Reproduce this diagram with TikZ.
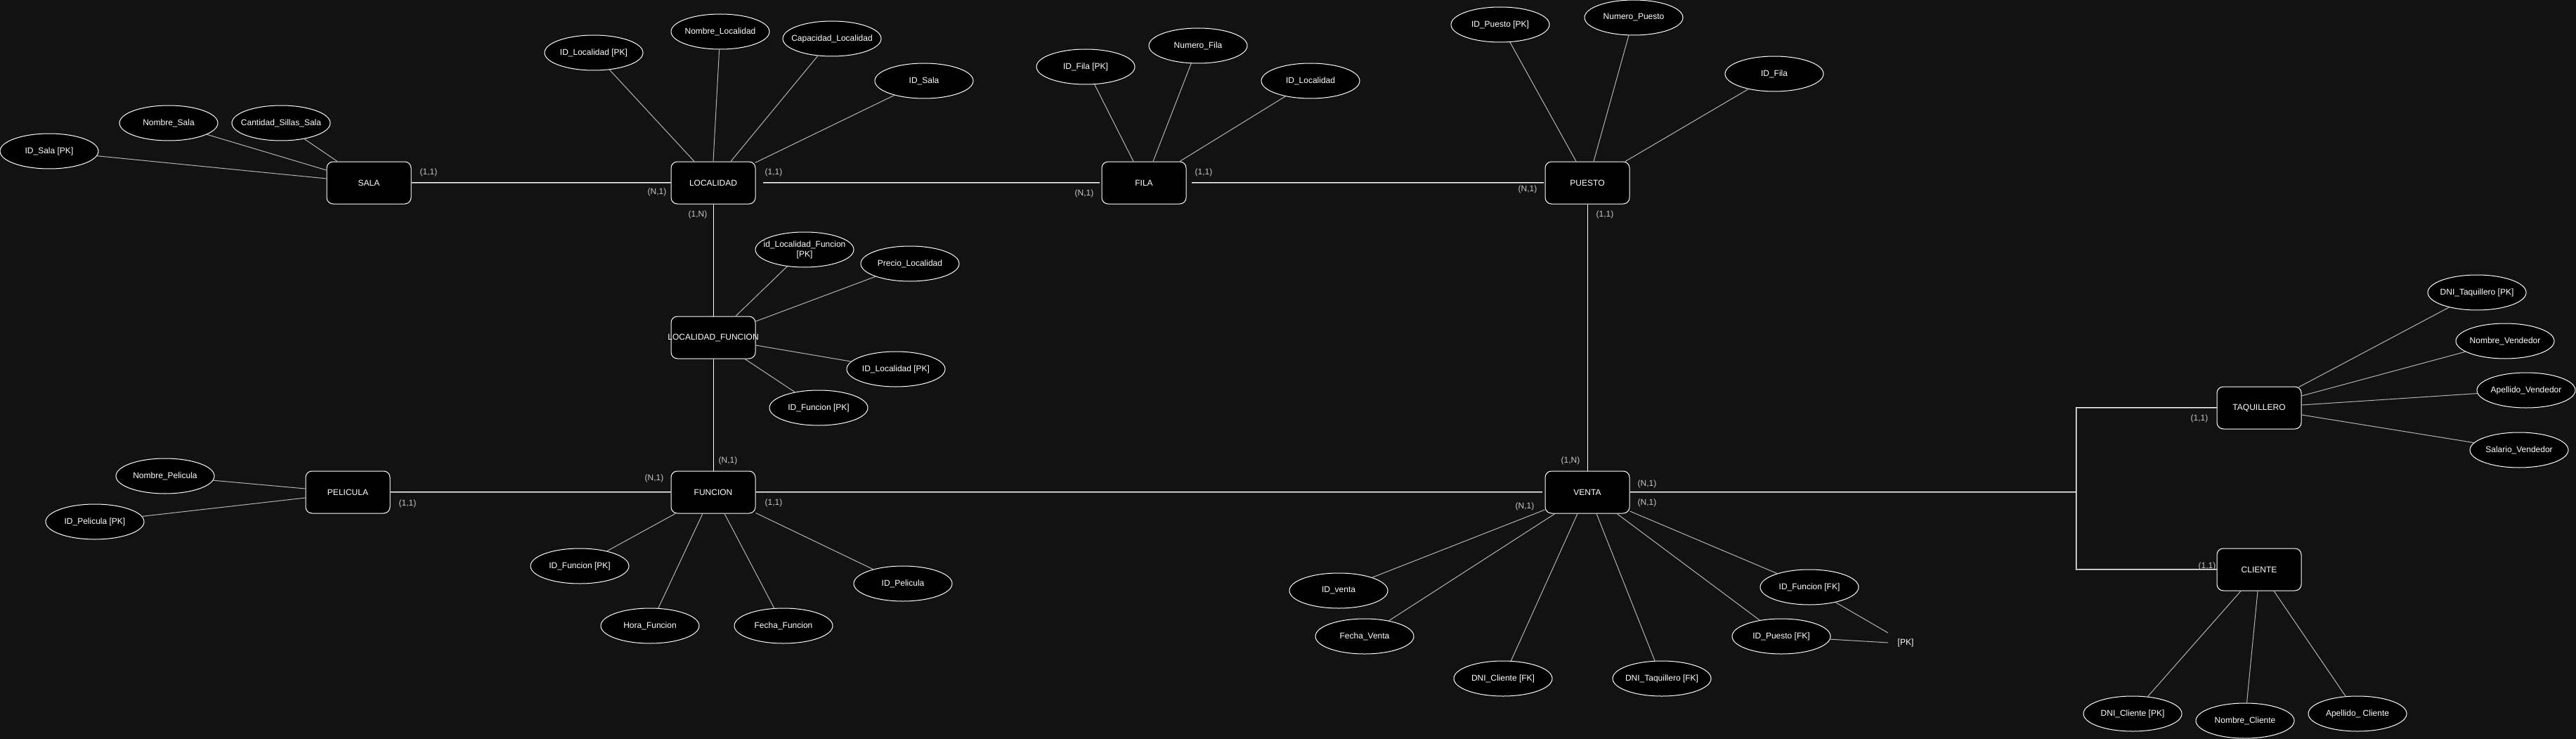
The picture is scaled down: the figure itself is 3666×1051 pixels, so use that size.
\documentclass[tikz,border=0pt]{standalone}
\usepackage{fontspec}
\setmainfont{Liberation Sans}
\usetikzlibrary{shapes.geometric,calc}
\definecolor{bg}{HTML}{121212}
\definecolor{attrline}{HTML}{B4B4B4}
\definecolor{cardcol}{HTML}{C8C8C8}
\begin{document}
\begin{tikzpicture}[x=1pt,y=-1pt,
  every node/.style={font=\fontsize{12}{14}\selectfont, text=white},
  ent/.style={draw=white, fill=black, rounded corners=9pt, minimum width=120pt, minimum height=60pt, inner sep=0pt, line width=1pt},
  attr/.style={draw=white, fill=black, ellipse, minimum width=140pt, minimum height=50pt, inner xsep=-15pt, inner ysep=0pt, line width=1pt, align=center},
  card/.style={text=cardcol, inner sep=0pt},
  attrl/.style={draw=attrline, line width=1pt},
  rel/.style={draw=white, line width=0.8pt, double=black!45, double distance=0.9pt},
  thinl/.style={draw=white, line width=1pt}]
\fill[bg] (0,0) rectangle (3666,1051);
\useasboundingbox (0,0) rectangle (3666,1051);

% entities
\node[ent] (sala) at (525,260) {SALA};
\node[ent] (loc) at (1015,260) {LOCALIDAD};
\node[ent] (fila) at (1628,260) {FILA};
\node[ent] (puesto) at (2259,260) {PUESTO};
\node[ent, label={[text=white, inner sep=0pt]center:LOCALIDAD\_FUNCION}] (lf) at (1015,480) {};
\node[ent] (func) at (1015,700) {FUNCION};
\node[ent] (pel) at (495,700) {PELICULA};
\node[ent] (venta) at (2259,700) {VENTA};
\node[ent] (taq) at (3215,580) {TAQUILLERO};
\node[ent] (cli) at (3215,810) {CLIENTE};

% attributes
\node[attr] (aIdSalaPk) at (70,215) {ID\_Sala [PK]};
\node[attr] (aNomSala) at (240,175) {Nombre\_Sala};
\node[attr] (aCantSillas) at (400,175) {Cantidad\_Sillas\_Sala};
\node[attr] (aIdLocPk) at (845,75) {ID\_Localidad [PK]};
\node[attr] (aNomLoc) at (1025,45) {Nombre\_Localidad};
\node[attr] (aCapLoc) at (1184,55) {Capacidad\_Localidad};
\node[attr] (aIdSala) at (1315,115) {ID\_Sala};
\node[attr] (aIdFilaPk) at (1545,95) {ID\_Fila [PK]};
\node[attr] (aNumFila) at (1705,65) {Numero\_Fila};
\node[attr] (aIdLoc) at (1865,115) {ID\_Localidad};
\node[attr] (aIdPuestoPk) at (2135,35) {ID\_Puesto [PK]};
\node[attr] (aNumPuesto) at (2325,25) {Numero\_Puesto};
\node[attr] (aIdFila) at (2525,105) {ID\_Fila};
\node[attr] (aIdLfPk) at (1145,355) {id\_Localidad\_Funcion\\{[PK]}};
\node[attr] (aPrecio) at (1295,375) {Precio\_Localidad};
\node[attr] (aLfIdLoc) at (1275,525) {ID\_Localidad [PK]};
\node[attr] (aLfIdFunc) at (1165,580) {ID\_Funcion [PK]};
\node[attr] (aNomPel) at (235,677) {Nombre\_Pelicula};
\node[attr] (aIdPelPk) at (135,742) {ID\_Pelicula [PK]};
\node[attr] (aIdFuncPk) at (825,805) {ID\_Funcion [PK]};
\node[attr] (aHora) at (925,890) {Hora\_Funcion};
\node[attr] (aFecha) at (1115,890) {Fecha\_Funcion};
\node[attr] (aIdPel) at (1285,830) {ID\_Pelicula};
\node[attr] (aIdVenta) at (1905,840) {ID\_venta};
\node[attr] (aFechaVenta) at (1942,905) {Fecha\_Venta};
\node[attr] (aDniCliFk) at (2139,965) {DNI\_Cliente [FK]};
\node[attr] (aDniTaqFk) at (2365,965) {DNI\_Taquillero [FK]};
\node[attr] (aIdPuestoFk) at (2535,905) {ID\_Puesto [FK]};
\node[attr] (aIdFuncFk) at (2575,835) {ID\_Funcion [FK]};
\node[inner sep=0pt, minimum width=50pt] (pk) at (2712,914) {[PK]};
\node[attr] (aDniTaqPk) at (3525,416) {DNI\_Taquillero [PK]};
\node[attr] (aNomVend) at (3565,485) {Nombre\_Vendedor};
\node[attr] (aApeVend) at (3595,555) {Apellido\_Vendedor};
\node[attr] (aSalVend) at (3585,640) {Salario\_Vendedor};
\node[attr] (aDniCliPk) at (3035,1015) {DNI\_Cliente [PK]};
\node[attr] (aNomCli) at (3195,1025) {Nombre\_Cliente};
\node[attr] (aApeCli) at (3355,1015) {Apellido\_ Cliente};

% attribute connectors
\draw[attrl] (aIdSalaPk) -- ($(sala.west)+(0,-6)$);
\draw[attrl] (aNomSala) -- ($(sala.west)+(0,-18)$);
\draw[attrl] (aCantSillas) -- ($(sala.north)+(-45,0)$);
\draw[attrl] (aIdLocPk) -- ($(loc.north)+(-27,0)$);
\draw[attrl] (aNomLoc) -- (loc.north);
\draw[attrl] (aCapLoc) -- ($(loc.north)+(25,0)$);
\draw[attrl] (aIdSala) -- ($(loc.north east)+(-1,2)$);
\draw[attrl] (aIdFilaPk) -- ($(fila.north)+(-15,0)$);
\draw[attrl] (aNumFila) -- ($(fila.north)+(13,0)$);
\draw[attrl] (aIdLoc) -- ($(fila.north)+(51,0)$);
\draw[attrl] (aIdPuestoPk) -- ($(puesto.north)+(-16,0)$);
\draw[attrl] (aNumPuesto) -- ($(puesto.north)+(9,0)$);
\draw[attrl] (aIdFila) -- ($(puesto.north)+(54,0)$);
\draw[attrl] (aIdLfPk) -- ($(lf.north)+(32,0)$);
\draw[attrl] (aPrecio) -- ($(lf.east)+(0,-23)$);
\draw[attrl] (aLfIdLoc) -- ($(lf.east)+(0,11)$);
\draw[attrl] (aLfIdFunc) -- ($(lf.south)+(45,0)$);
\draw[attrl] (aNomPel) -- ($(pel.west)+(0,-5)$);
\draw[attrl] (aIdPelPk) -- ($(pel.west)+(0,8)$);
\draw[attrl] (aIdFuncPk) -- ($(func.south)+(-54,0)$);
\draw[attrl] (aHora) -- ($(func.south)+(-15,0)$);
\draw[attrl] (aFecha) -- ($(func.south)+(16,0)$);
\draw[attrl] (aIdPel) -- ($(func.south east)+(0,-1)$);
\draw[attrl] (aIdVenta) -- ($(venta.west)+(0,25)$);
\draw[attrl] (aFechaVenta) -- ($(venta.south)+(-46,0)$);
\draw[attrl] (aDniCliFk) -- ($(venta.south)+(-14,0)$);
\draw[attrl] (aDniTaqFk) -- ($(venta.south)+(13,0)$);
\draw[attrl] (aIdPuestoFk) -- ($(venta.south)+(42,0)$);
\draw[attrl] (aIdFuncFk) -- ($(venta.east)+(0,27)$);
\draw[attrl] (aIdFuncFk) -- ($(pk.west)+(0,-14)$);
\draw[attrl] (aIdPuestoFk) -- (pk.west);
\draw[attrl] (aDniTaqPk) -- ($(taq.north east)+(-4,1)$);
\draw[attrl] (aNomVend) -- ($(taq.east)+(0,-17)$);
\draw[attrl] (aApeVend) -- ($(taq.east)+(0,-4)$);
\draw[attrl] (aSalVend) -- ($(taq.east)+(0,10)$);
\draw[attrl] (aDniCliPk) -- ($(cli.south)+(-26,0)$);
\draw[attrl] (aNomCli) -- ($(cli.south)+(-2,0)$);
\draw[attrl] (aApeCli) -- ($(cli.south)+(21,0)$);

% relationships
\draw[rel] (sala.east) -- (loc.west);
\draw[rel, shorten <=10pt, shorten >=3pt] (loc.east) -- (fila.west);
\draw[rel, shorten <=7pt, shorten >=2pt] (fila.east) -- (puesto.west);
\draw[rel] (pel.east) -- (func.west);
\draw[rel, shorten >=4pt] (func.east) -- (venta.west);
\draw[thinl] (loc.south) -- (lf.north);
\draw[thinl] (lf.south) -- (func.north);
\draw[thinl] (puesto.south) -- (venta.north);
\coordinate (br) at (2955,700);
\draw[rel] (venta.east) -- (br) |- (taq.west);
\draw[rel] (br) |- (cli.west);

% cardinalities
\node[card] (c1) at (610,245) {(1,1)};
\node[card] (c2) at (935,273) {(N,1)};
\node[card] (c3) at (993,305) {(1,N)};
\node[card] (c4) at (1101,245) {(1,1)};
\node[card] (c5) at (1543,275) {(N,1)};
\node[card] (c6) at (1713,245) {(1,1)};
\node[card] (c7) at (2174,269) {(N,1)};
\node[card] (c8) at (2284,305) {(1,1)};
\node[card] (c9) at (1036,655) {(N,1)};
\node[card] (c10) at (931,680) {(N,1)};
\node[card] (c11) at (1101,715) {(1,1)};
\node[card] (c12) at (580,716) {(1,1)};
\node[card] (c13) at (2235,655) {(1,N)};
\node[card] (c14) at (2344,688) {(N,1)};
\node[card] (c15) at (2344,715) {(N,1)};
\node[card] (c16) at (2170,720) {(N,1)};
\node[card] (c17) at (3130,595) {(1,1)};
\node[card] (c18) at (3141,805) {(1,1)};
\end{tikzpicture}
\end{document}
